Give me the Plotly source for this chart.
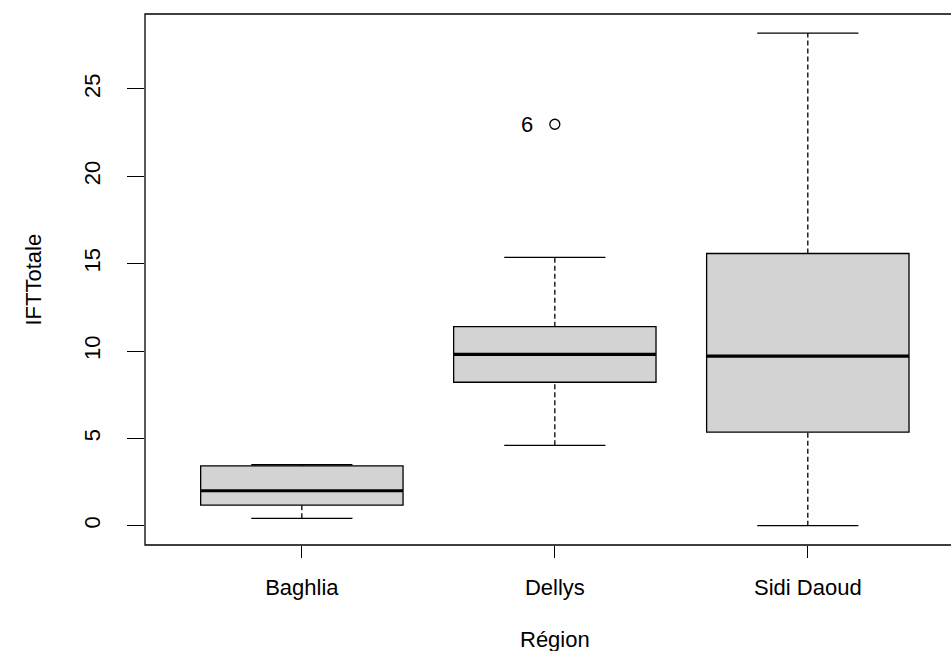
import numpy as np
import plotly.graph_objects as go

# ---- data ----
regions = ["Baghlia", "Dellys", "Sidi Daoud"]
lower_whisker = [0.42, 4.60, 0.00]
q1 = [1.18, 8.21, 5.36]
median = [2.00, 9.81, 9.71]
q3 = [3.42, 11.39, 15.58]
upper_whisker = [3.49, 15.36, 28.19]

outlier_region = ["Dellys"]
outlier_value = [22.98]
outlier_label = ["6"]

y_ticks = [0, 5, 10, 15, 20, 25]

# ---- styling ----
FONT = "Liberation Sans, Arial, sans-serif"
FS = 22
BOXWEX = 0.8
STAPLE = 0.4
BLACK = "#000000"
FILL = "#d3d3d3"

pos = np.arange(1, len(regions) + 1)
pos_of = {r: p for r, p in zip(regions, pos)}

fig = go.Figure()

for i, r in enumerate(regions):
    p = pos[i]
    # box body
    fig.add_trace(go.Box(
        x=[p], q1=[q1[i]], median=[median[i]], q3=[q3[i]],
        lowerfence=[q1[i]], upperfence=[q3[i]],
        width=BOXWEX, fillcolor=FILL,
        line=dict(color=BLACK, width=1.3),
        whiskerwidth=0, boxpoints=False, showlegend=False, hoverinfo="skip",
    ))
    # thick median
    fig.add_trace(go.Scatter(
        x=[p - BOXWEX / 2, p + BOXWEX / 2], y=[median[i], median[i]],
        mode="lines", line=dict(color=BLACK, width=3.2),
        showlegend=False, hoverinfo="skip",
    ))
    # dashed whiskers
    for a, b in ((lower_whisker[i], q1[i]), (q3[i], upper_whisker[i])):
        fig.add_trace(go.Scatter(
            x=[p, p], y=[a, b], mode="lines",
            line=dict(color=BLACK, width=1.3, dash="5px,3px"),
            showlegend=False, hoverinfo="skip",
        ))
    # staples
    for v in (lower_whisker[i], upper_whisker[i]):
        fig.add_trace(go.Scatter(
            x=[p - STAPLE / 2, p + STAPLE / 2], y=[v, v], mode="lines",
            line=dict(color=BLACK, width=1.3),
            showlegend=False, hoverinfo="skip",
        ))

# outliers
ox = [pos_of[r] for r in outlier_region]
fig.add_trace(go.Scatter(
    x=ox, y=outlier_value, mode="markers",
    marker=dict(symbol="circle-open", size=10, color=BLACK, line=dict(width=1.3)),
    showlegend=False, hoverinfo="skip",
))
for x, y, t in zip(ox, outlier_value, outlier_label):
    fig.add_annotation(x=x, y=y, text=t, showarrow=False, xshift=-28,
                       font=dict(family=FONT, size=FS, color=BLACK))

# axis titles
fig.add_annotation(x=2, y=0, xref="x", yref="paper", yshift=-94, text="Région",
                   showarrow=False, xanchor="center", yanchor="middle",
                   font=dict(family=FONT, size=FS, color=BLACK))
fig.add_annotation(x=0, y=0.5, xref="paper", yref="paper", xshift=-112,
                   text="IFTTotale", textangle=-90, showarrow=False,
                   xanchor="center", yanchor="middle",
                   font=dict(family=FONT, size=FS, color=BLACK))

# frame (right edge falls outside the picture, as in the reference)
fig.add_shape(type="rect", xref="paper", yref="paper", x0=0, x1=1.2, y0=0, y1=1,
              line=dict(color=BLACK, width=1.3))

fig.update_layout(
    width=951, height=651,
    margin=dict(l=145, r=0, t=14, b=106),
    plot_bgcolor="white", paper_bgcolor="white",
    font=dict(family=FONT, size=FS, color=BLACK),
    showlegend=False,
    xaxis=dict(range=[0.38, 3.566], tickvals=list(pos), ticktext=regions,
               ticks="outside", ticklen=12, tickwidth=1.3, tickcolor=BLACK,
               showgrid=False, zeroline=False, showline=False,
               ticklabelstandoff=11),
    yaxis=dict(range=[-1.105, 29.29], tickvals=y_ticks,
               ticks="outside", ticklen=17, tickwidth=1.3, tickcolor=BLACK,
               tickangle=-90, showgrid=False, zeroline=False, showline=False,
               ticklabelstandoff=18),
)

fig.write_html("out.html",
               config={"displayModeBar": False},
               post_script="document.body.style.margin='0';document.body.style.overflow='hidden';")
